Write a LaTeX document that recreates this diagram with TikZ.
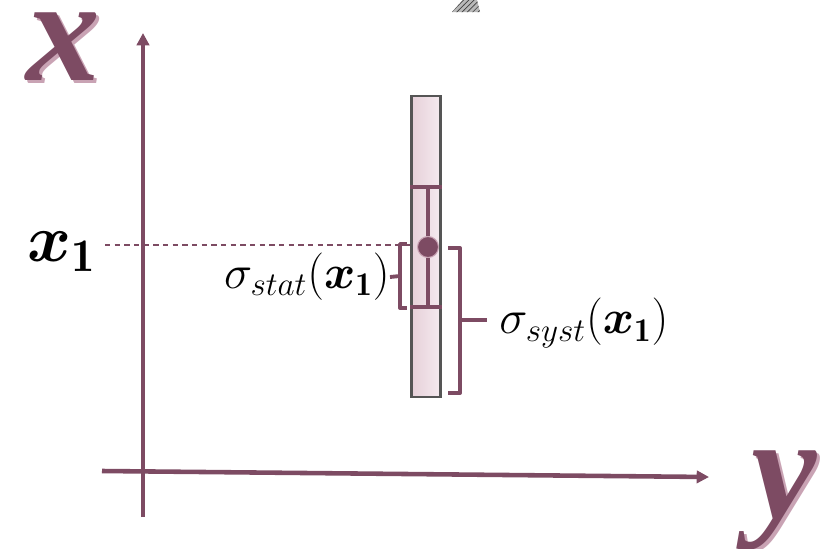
\RequirePackage{fix-cm}
\documentclass[tikz,border=0pt]{standalone}
\usepackage{amsmath, amssymb}
\usepackage{fontspec}
\usetikzlibrary{positioning,patterns,arrows.meta}
\newfontfamily\bigletter{Liberation Serif}
\definecolor{mauve}{HTML}{7D4B63}
\definecolor{mauvelight}{HTML}{C9A3B4}
\definecolor{boxgray}{HTML}{555555}
\definecolor{tubeleft}{HTML}{E6D0D9}
\definecolor{tuberight}{HTML}{F5EAEF}

\begin{document}
\begin{tikzpicture}[x=0.02cm, y=-0.02cm, >={Triangle[length=7pt,width=7pt]},
    axis/.style={draw=mauve, line width=2.6pt},
    bar/.style={draw=mauve, line width=2.6pt},
    bracket/.style={draw=mauve, line width=2.2pt, line join=round},
    bigvar/.style={text=mauve, font=\bigletter\bfseries\itshape\fontsize{84}{90}\selectfont, inner sep=0pt, anchor=base},
    shadevar/.style={bigvar, text=mauvelight},
    mlabel/.style={font=\fontsize{27}{30}\selectfont, inner sep=0pt}]
    \useasboundingbox (0,0) rectangle (825,548);

    % axes
    \coordinate (xbot) at (143,517);
    \coordinate (xtop) at (143,33);
    \coordinate (yleft) at (102,471);
    \coordinate (yright) at (709,477);
    \draw[axis,->] (xbot) -- (xtop);
    \draw[axis,->] (yleft) -- (yright);

    % axis names
    \node[shadevar] (xshade) at (66,83) {x};
    \node[bigvar] (xname) at (63,80) {x};
    \node[shadevar] (yshade) at (787,521) {y};
    \node[bigvar] (yname) at (784,518) {y};

    % cut off piece at the top
    \fill[gray!55] (463,0) -- (477,0) -- (480,12) -- (452,12) -- cycle;
    \fill[pattern=north east lines, pattern color=black!75] (463,0) -- (477,0) -- (480,12) -- (452,12) -- cycle;

    % measurement tube
    \node[draw=boxgray, line width=1.4pt, left color=tubeleft, right color=tuberight,
          minimum width=0.58cm, minimum height=6.02cm, inner sep=0pt] (tube) at (426,246.5) {};

    % error bar with point
    \coordinate (captop) at (428,187);
    \coordinate (capbot) at (428,307);
    \node[circle, fill=mauve, draw=mauvelight, line width=0.6pt, minimum size=0.42cm, inner sep=0pt] (meas) at (428,247) {};
    \draw[bar] (captop) -- (meas);
    \draw[bar] (meas) -- (capbot);
    \draw[bar] (tube.west |- captop) -- (tube.east |- captop);
    \draw[bar] (tube.west |- capbot) -- (tube.east |- capbot);

    % x_1 and its level
    \node[font=\fontsize{38}{40}\selectfont, inner sep=0pt] (xone) at (62,252) {$\boldsymbol{x}_{\mathbf{1}}$};
    \draw[mauve, line width=0.7pt, dash pattern=on 3pt off 2.5pt] (105,245) -- (tube.west |- 0,245);

    % statistical error
    \coordinate (stattop) at (407,244);
    \coordinate (statbot) at (407,308);
    \coordinate (statmid) at (400,276);
    \draw[bracket] (stattop) -- ++(-7,0) |- (statbot);
    \node[mlabel, anchor=east] (stat) at (390,277) {$\sigma_{stat}(\boldsymbol{x}_{\mathbf{1}})$};
    \draw[bracket] (statmid) -- (stat.east);

    % systematic error
    \coordinate (systtop) at (448,248);
    \coordinate (systbot) at (448,393);
    \coordinate (systmid) at (460,320);
    \draw[bracket] (systtop) -- ++(12,0) |- (systbot);
    \node[mlabel, anchor=west] (syst) at (499,323) {$\sigma_{syst}(\boldsymbol{x}_{\mathbf{1}})$};
    \draw[bracket] (systmid) -- ++(27,0);
\end{tikzpicture}
\end{document}
